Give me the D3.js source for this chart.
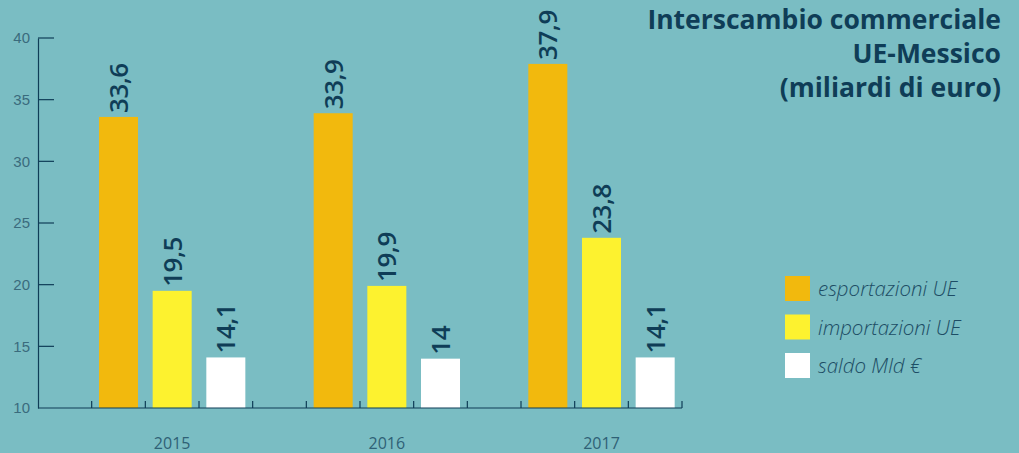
<!DOCTYPE html>
<html>
<head>
<meta charset="utf-8">
<script src="https://cdn.jsdelivr.net/npm/d3@7"></script>
<style>
  html, body { margin: 0; padding: 0; background: #7abdc3; }
  svg { display: block; font-family: "Open Sans", sans-serif; }
</style>
</head>
<body>
<svg width="1019" height="453"></svg>
<script>
const years = ["2015", "2016", "2017"];
const series = ["esportazioni UE", "importazioni UE", "saldo Mld €"];
const esportazioni = [33.6, 33.9, 37.9];
const importazioni = [19.5, 19.9, 23.8];
const saldo = [14.1, 14, 14.1];
const yTicks = [10, 15, 20, 25, 30, 35, 40];
const titleLines = ["Interscambio commerciale", "UE-Messico", "(miliardi di euro)"];

const colors = ["#f2b90d", "#fdf22f", "#ffffff"];
const ink = "#0f3d57";

const margin = { top: 38, left: 38 },
      plotW = 644,
      plotH = 370;

const svg = d3.select("svg");
svg.append("rect").attr("width", 1019).attr("height", 453).attr("fill", "#7abdc3");

const g = svg.append("g")
  .attr("transform", `translate(${margin.left},${margin.top})`);

const data = years.map((yr, i) => ({
  year: yr,
  values: [esportazioni[i], importazioni[i], saldo[i]].map((v, j) => ({ key: series[j], value: v }))
}));

// Scales
const x0 = d3.scaleBand().domain(years).range([0, plotW]);
const slot = x0.bandwidth() / 4;
const x1 = d3.scaleBand()
  .domain(series)
  .range([slot, x0.bandwidth()])
  .paddingInner(0.273)
  .paddingOuter(0.1365);

const y = d3.scaleLinear().domain([10, 40]).range([plotH, 0]);

// Y axis
const yAxis = g.append("g")
  .call(d3.axisLeft(y).tickValues(yTicks).tickSize(0).tickPadding(8));
yAxis.select(".domain").attr("stroke", ink).attr("stroke-width", 1.2);
yAxis.selectAll("text")
  .attr("fill", "#3a6b7d")
  .style("font-size", "15px");
g.append("g").selectAll("line")
  .data(yTicks.slice(1))
  .join("line")
  .attr("x1", 0).attr("x2", 16)
  .attr("y1", d => y(d)).attr("y2", d => y(d))
  .attr("stroke", ink).attr("stroke-width", 1.2);

// Bars
const groups = g.selectAll(".year")
  .data(data)
  .join("g")
  .attr("class", "year")
  .attr("transform", d => `translate(${x0(d.year)},0)`);

groups.selectAll("rect")
  .data(d => d.values)
  .join("rect")
  .attr("x", d => x1(d.key))
  .attr("y", d => y(d.value))
  .attr("width", x1.bandwidth())
  .attr("height", d => plotH - y(d.value))
  .attr("fill", (d, i) => colors[i]);

groups.selectAll(".label")
  .data(d => d.values)
  .join("text")
  .attr("class", "label")
  .attr("transform", d => `translate(${x1(d.key) + x1.bandwidth() / 2 + 9.5},${y(d.value) - 4}) rotate(-90)`)
  .attr("fill", ink)
  .style("font-size", "26px")
  .style("font-weight", 600)
  .style("letter-spacing", "-0.5px")
  .text(d => String(d.value).replace(".", ","));

// X axis
const xTicks = d3.range(1, 13).map(k => k * slot);
g.append("line")
  .attr("x1", 0).attr("x2", plotW)
  .attr("y1", plotH).attr("y2", plotH)
  .attr("stroke", ink).attr("stroke-width", 1.2);
g.append("g").selectAll("line")
  .data(xTicks)
  .join("line")
  .attr("x1", d => d).attr("x2", d => d)
  .attr("y1", plotH).attr("y2", plotH - 7)
  .attr("stroke", ink).attr("stroke-width", 1.2);

g.append("g").selectAll("text")
  .data(years)
  .join("text")
  .attr("x", d => x0(d) + x1(series[1]) + x1.bandwidth() / 2)
  .attr("y", plotH + 41)
  .attr("text-anchor", "middle")
  .attr("fill", "#2f6176")
  .style("font-size", "16px")
  .text(d => d);

// Title
svg.append("g").selectAll("text")
  .data(titleLines)
  .join("text")
  .attr("x", 1001)
  .attr("y", (d, i) => 29 + i * 34)
  .attr("text-anchor", "end")
  .attr("fill", ink)
  .style("font-size", "26.5px")
  .style("font-weight", 700)
  .text(d => d);

// Legend
const legend = svg.append("g").attr("transform", "translate(785,276)");
const item = legend.selectAll("g")
  .data(series)
  .join("g")
  .attr("transform", (d, i) => `translate(0,${i * 38.5})`);
item.append("rect")
  .attr("width", 25).attr("height", 25)
  .attr("fill", (d, i) => colors[i]);
item.append("text")
  .attr("x", 33).attr("y", 20)
  .attr("fill", "#1d4d65")
  .style("font-size", "20.5px")
  .style("font-style", "italic")
  .style("font-weight", 300)
  .text(d => d);
</script>
</body>
</html>
